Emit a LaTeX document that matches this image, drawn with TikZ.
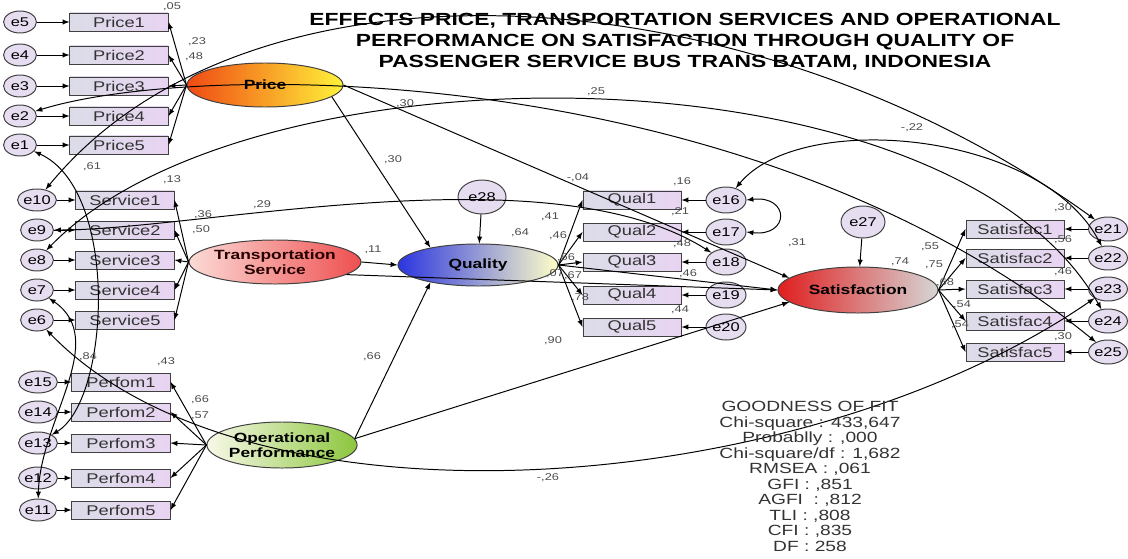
\documentclass[tikz,border=0pt]{standalone}
\usepackage{fontspec}
\setmainfont{Liberation Sans}[FakeStretch=1.3]
\usetikzlibrary{shapes.geometric}

\definecolor{priceL}{HTML}{F04A14}
\definecolor{priceR}{HTML}{FFF23A}
\definecolor{transL}{HTML}{FBDAD6}
\definecolor{transR}{HTML}{EE5050}
\definecolor{operL}{HTML}{F8F8E8}
\definecolor{operR}{HTML}{8CC63E}
\definecolor{qualL}{HTML}{2B35E0}
\definecolor{qualR}{HTML}{FFFFC8}
\definecolor{satL}{HTML}{E01E1E}
\definecolor{satR}{HTML}{D6D6D6}
\definecolor{boxL}{HTML}{DCDCE8}
\definecolor{boxR}{HTML}{E8D4F2}
\definecolor{errfill}{HTML}{E6DDF0}

\tikzset{
  obs/.style={draw=black!75, left color=boxL, right color=boxR,
    minimum width=2.45cm, minimum height=0.45cm, inner sep=0pt,
    font=\fontsize{10}{11}\selectfont, text=black!80},
  err/.style={ellipse, draw=black!75, fill=errfill, minimum width=0.82cm,
    minimum height=0.55cm, inner sep=0pt, font=\fontsize{9}{10}\selectfont},
  lat/.style={ellipse, draw=black!75, minimum width=3.9cm, minimum height=1.1cm,
    inner sep=0pt, align=center, font=\bfseries\fontsize{9.5}{10.5}\selectfont},
  est/.style={font=\fontsize{7}{8}\selectfont, text=black!70, inner sep=0.5pt},
  ttl/.style={font=\bfseries\fontsize{12.5}{15}\selectfont, align=center},
  gof/.style={font=\fontsize{10.5}{11}\selectfont, align=center, text=black!80, inner sep=0pt},
}

\begin{document}
\begin{tikzpicture}[x=0.025cm, y=-0.025cm, line width=0.7pt]
		\useasboundingbox (0,0) rectangle (1128,558);
		
		% Title
		\node[ttl] (title) at (685,42) {EFFECTS PRICE, TRANSPORTATION SERVICES AND OPERATIONAL\\
			PERFORMANCE ON SATISFACTION THROUGH QUALITY OF\\
			PASSENGER SERVICE BUS TRANS BATAM, INDONESIA};
		
		% Latent variables
		\node[lat, left color=priceL, right color=priceR] (lprice) at (265,85) {Price};
		\node[lat, left color=transL, right color=transR, text=black!85!red] (ltrans) at (275,262) {Transportation\\Service};
		\node[lat, left color=operL, right color=operR, minimum width=3.75cm, minimum height=1.15cm] (loper) at (282,445) {Operational\\Performance};
		\node[lat, left color=qualL, right color=qualR, minimum width=4cm, minimum height=1.05cm] (lqual) at (478,265) {Quality};
		\node[lat, left color=satL, right color=satR, minimum width=4cm, minimum height=1.15cm] (lsatis) at (858,290) {Satisfaction};
		\node[err, minimum width=1.2cm, minimum height=0.85cm] (e28) at (482,197) {e28};
		\node[err, minimum width=1.1cm, minimum height=0.8cm] (e27) at (863,222) {e27};
		
		% Indicators left
		\foreach \i/\y/\e in {1/22/5, 2/55/4, 3/86/3, 4/116/2, 5/145/1}{
			\node[obs] (price\i) at (119,\y) {Price\i};
			\node[err] (e\e) at (20,\y) {e\e};
			\draw[-latex] (e\e) -- (price\i);
			\draw[-latex] (lprice.west) -- (price\i.east);
		}
		\foreach \i/\y/\e in {1/200/10, 2/230/9, 3/260/8, 4/290/7, 5/320/6}{
			\node[obs] (serv\i) at (125,\y) {Service\i};
			\node[err] (e\e) at (37,\y) {e\e};
			\draw[-latex] (e\e) -- (serv\i);
			\draw[-latex] (ltrans.west) -- (serv\i.east);
		}
		\foreach \i/\y/\e in {1/382/15, 2/412/14, 3/443/13, 4/478/12, 5/510/11}{
			\node[obs] (perf\i) at (121,\y) {Perfom\i};
			\node[err] (e\e) at (38,\y) {e\e};
			\draw[-latex] (e\e) -- (perf\i);
			\draw[-latex] (loper.west) -- (perf\i.east);
		}
		
		% Indicators right
		\foreach \i/\y/\e in {1/200/16, 2/232/17, 3/262/18, 4/295/19, 5/327/20}{
			\node[obs] (qual\i) at (632,\y) {Qual\i};
			\node[err, minimum width=1cm, minimum height=0.65cm] (e\e) at (726,\y) {e\e};
			\draw[-latex] (e\e) -- (qual\i);
			\draw[-latex] (lqual.east) -- (qual\i.west);
		}
		\foreach \i/\y/\e in {1/229/21, 2/258/22, 3/289/23, 4/321/24, 5/352/25}{
			\node[obs] (sat\i) at (1015,\y) {Satisfac\i};
			\node[err, minimum width=0.85cm, minimum height=0.6cm] (e\e) at (1108,\y) {e\e};
			\draw[-latex] (e\e) -- (sat\i);
			\draw[-latex] (lsatis.east) -- (sat\i.west);
		}
		
		% Structural paths
		\draw[-latex] (lprice.-10) -- (lqual.160);
		\draw[-latex] (lprice.east) -- (lsatis.170);
		\draw[-latex] (ltrans.east) -- (lqual.west);
		\draw[-latex] (ltrans.-10) -- (lsatis.west);
		\draw[-latex] (loper.5) -- (lqual.-160);
		\draw[-latex] (loper.5) -- (lsatis.190);
		\draw[-latex] (lqual.east) -- (lsatis.west);
		\draw[-latex] (e28) -- (lqual);
		\draw[-latex] (e27) -- (lsatis);
		
		% Covariances
		\draw[latex-latex] (e10) .. controls (250,-60) and (750,-30) .. (e21);
		\draw[latex-latex] (e8) .. controls (250,40) and (950,40) .. (e24);
		\draw[latex-latex] (e2) .. controls (200,60) and (750,60) .. (e25);
		\draw[latex-latex] (e9) .. controls (200,230) and (550,150) .. (e18);
		\draw[latex-latex] (e6) .. controls (250,540) and (800,500) .. (e23);
		\draw[latex-latex] (e16) .. controls (800,110) and (1040,130) .. (e22);
		\draw[latex-latex] (e16.east) .. controls (790,195) and (790,237) .. (e17.east);
		\draw[latex-latex] (e1) .. controls (120,190) and (110,400) .. (e13);
		\draw[latex-latex] (e7) .. controls (110,340) and (40,420) .. (e11);
		
		% Estimates
		\foreach \x/\y/\t [count=\n] in {172/7/{,05}, 197/42/{,23}, 194/57/{,48},
			172/180/{,13}, 203/215/{,36}, 201/230/{,50},
			166/362/{,43}, 200/400/{,66}, 200/416/{,57},
			393/160/{,30}, 578/178/{-,04}, 373/250/{,11}, 372/357/{,66}, 553/341/{,90}, 520/233/{,64}, 900/262/{,74},
			596/92/{,25}, 405/104/{,30}, 262/205/{,29}, 548/478/{-,26}, 912/128/{-,22}, 797/243/{,31}, 92/167/{,61}, 88/357/{,84},
			550/217/{,41}, 558/236/{,46}, 566/258/{,66}, 555/274/{,07}, 573/276/{,67}, 580/298/{,78},
			682/182/{,16}, 680/212/{,21}, 682/244/{,48}, 688/274/{,46}, 680/310/{,44},
			930/247/{,55}, 934/265/{,75}, 945/283/{,68}, 962/305/{,54}, 960/325/{,54},
			1063/208/{,30}, 1063/240/{,56}, 1063/272/{,46}, 1063/337/{,30}}
			\node[est] (w\n) at (\x,\y) {\t};
		
		% Goodness of fit
		\node[gof, anchor=north] (fit) at (810,401) {GOODNESS OF FIT\\Chi-square : 433,647\\Probablly : ,000\\Chi-square/df : 1,682\\RMSEA : ,061\\GFI : ,851\\AGFI \ : ,812\\TLI : ,808\\CFI : ,835\\DF : 258};
	\end{tikzpicture}
\end{document}
